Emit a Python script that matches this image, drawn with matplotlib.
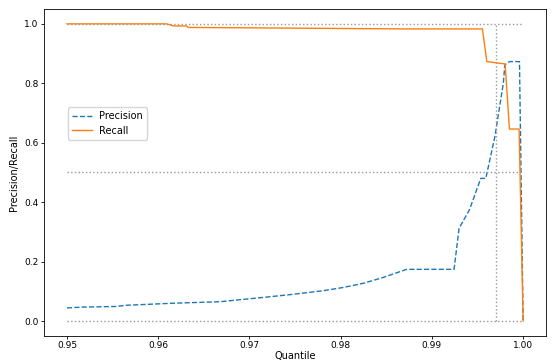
import matplotlib
matplotlib.use("Agg")
import matplotlib.pyplot as plt

# values
precision_q = [0.950, 0.9518, 0.9554, 0.9565, 0.9617, 0.9668, 0.9697, 0.9711,
               0.9748, 0.9781, 0.9803, 0.9825, 0.9846, 0.98725, 0.99243,
               0.99298, 0.99411, 0.99536, 0.99591, 0.9969, 0.99783, 0.9980,
               0.9985, 0.9996, 1.000]
precision = [0.044, 0.047, 0.049, 0.053, 0.060, 0.065, 0.074, 0.078,
             0.090, 0.102, 0.113, 0.127, 0.146, 0.174, 0.174,
             0.312, 0.374, 0.480, 0.480, 0.620, 0.800, 0.862,
             0.873, 0.873, 0.0]

recall_q = [0.950, 0.9609, 0.9617, 0.9631, 0.9633, 0.98684, 0.99554, 0.99602,
            0.99803, 0.9985, 0.99956, 1.000]
recall = [1.000, 1.000, 0.993, 0.993, 0.988, 0.983, 0.983, 0.873,
          0.865, 0.646, 0.646, 0.0]

thresh_q = 0.997
ref_levels = [0.0, 0.5, 1.0]

plt.rcParams["font.size"] = 7
fig = plt.figure(figsize=(5.52, 3.6), dpi=100)
ax = fig.add_axes([0.08, 0.067, 0.909, 0.908])

ax.plot(precision_q, precision, linestyle="--", color="#1f77b4", lw=1.0, label="Precision")
ax.plot(recall_q, recall, linestyle="-", color="#ff7f0e", lw=1.0, label="Recall")

ax.hlines(ref_levels, 0.95, 1.0, colors="#999999", linestyles=":", lw=1.0)
ax.vlines(thresh_q, 0.0, 1.0, colors="#999999", linestyles=":", lw=1.0)

ax.set_xlabel("Quantile", fontsize=7, labelpad=0.5)
ax.set_ylabel("Precision/Recall", fontsize=7, labelpad=4)
ax.set_xticks([0.95, 0.96, 0.97, 0.98, 0.99, 1.00])
ax.set_yticks([0.0, 0.2, 0.4, 0.6, 0.8, 1.0])
ax.tick_params(labelsize=6.5, length=2.5, width=0.6, pad=1.5)
for s in ax.spines.values():
    s.set_linewidth(0.6)

ax.legend(loc="upper left", bbox_to_anchor=(0.048, 0.70), borderaxespad=0,
          fontsize=7, handlelength=2.0, frameon=True)

fig.savefig("out.png", dpi=100, facecolor="white")
